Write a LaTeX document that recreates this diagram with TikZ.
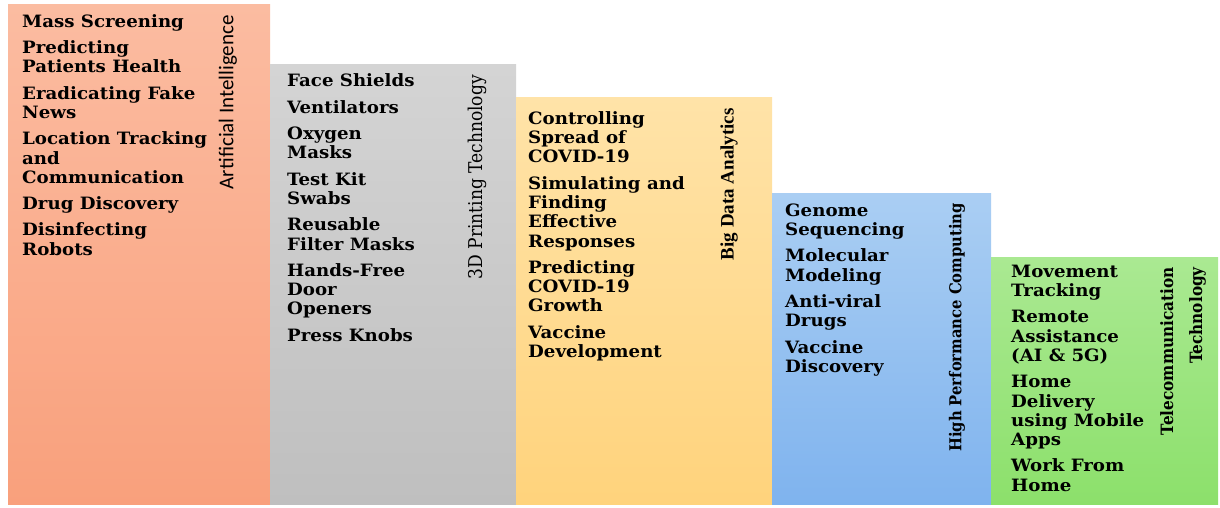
\documentclass[tikz,border=0pt]{standalone}
\usepackage{fontspec}
\setmainfont{DejaVu Serif}
\newfontfamily\itemfont{DejaVu Serif}[FakeStretch=1.07]
\newfontfamily\calfont{Carlito}
\newfontfamily\timesfont{Liberation Serif}
\newfontfamily\camfont{DejaVu Serif Condensed}
\definecolor{aitop}{HTML}{FBBCA1}
\definecolor{aibot}{HTML}{F9A07C}
\definecolor{grtop}{HTML}{D4D4D4}
\definecolor{grbot}{HTML}{BFBFBF}
\definecolor{yetop}{HTML}{FFE3A8}
\definecolor{yebot}{HTML}{FFD37C}
\definecolor{bltop}{HTML}{AACEF3}
\definecolor{blbot}{HTML}{7FB3EE}
\definecolor{gntop}{HTML}{AAE992}
\definecolor{gnbot}{HTML}{8CE06B}
\newcommand{\itsep}{\\[7pt]}
\tikzset{
  items/.style={anchor=north west, inner sep=0pt, align=left,
    font=\itemfont\bfseries\fontsize{17}{19.3}\selectfont, text=black},
  vtitle/.style={rotate=90, anchor=east, inner sep=0pt, text=black}
}
\begin{document}
\begin{tikzpicture}[x=1pt,y=1pt]
\useasboundingbox (0,0) rectangle (1220,508);
\fill[white] (0,0) rectangle (1220,508);
% boxes
\shade[top color=aitop, bottom color=aibot] (8,3) rectangle (270,503);
\shade[top color=grtop, bottom color=grbot] (270,3) rectangle (516,443);
\shade[top color=yetop, bottom color=yebot] (516,3) rectangle (772,410);
\shade[top color=bltop, bottom color=blbot] (772,3) rectangle (991,314);
\shade[top color=gntop, bottom color=gnbot] (991,3) rectangle (1218,250);
% items
\node[items] (ai) at (22,494.5) {\strut Mass Screening\itsep Predicting\\Patients Health\itsep Eradicating Fake\\News\itsep Location Tracking\\and\\Communication\itsep Drug Discovery\itsep Disinfecting\\Robots};
\node[items] (pr) at (287,434.8) {\strut Face Shields\itsep Ventilators\itsep Oxygen\\Masks\itsep Test Kit\\Swabs\itsep Reusable\\Filter Masks\itsep Hands-Free\\Door\\Openers\itsep Press Knobs};
\node[items] (bd) at (528,397.5) {\strut Controlling\\Spread of\\COVID-19\itsep Simulating and\\Finding\\Effective\\Responses\itsep Predicting\\COVID-19\\Growth\itsep Vaccine\\Development};
\node[items] (hp) at (785,305.5) {\strut Genome\\Sequencing\itsep Molecular\\Modeling\itsep Anti-viral\\Drugs\itsep Vaccine\\Discovery};
\node[items] (tc) at (1011,244.5) {\strut Movement\\Tracking\itsep Remote\\Assistance\\(AI \& 5G)\itsep Home\\Delivery\\using Mobile\\Apps\itsep Work From\\Home};
% titles
\node[vtitle, font=\calfont\fontsize{21}{24}\selectfont] (tai) at (228,493) {Artificial Intelligence};
\node[vtitle, font=\camfont\fontsize{19}{22}\selectfont] (tpr) at (477,433) {3D Printing Technology};
\node[vtitle, font=\timesfont\bfseries\fontsize{19}{22}\selectfont] (tbd) at (729,400) {Big Data Analytics};
\node[vtitle, font=\camfont\bfseries\fontsize{16.4}{20}\selectfont] (thp) at (957,305) {High Performance Computing};
\node[vtitle, align=right, font=\camfont\bfseries\fontsize{17}{29}\selectfont] (ttc) at (1183,241) {Telecommunication\\Technology};
\end{tikzpicture}
\end{document}
